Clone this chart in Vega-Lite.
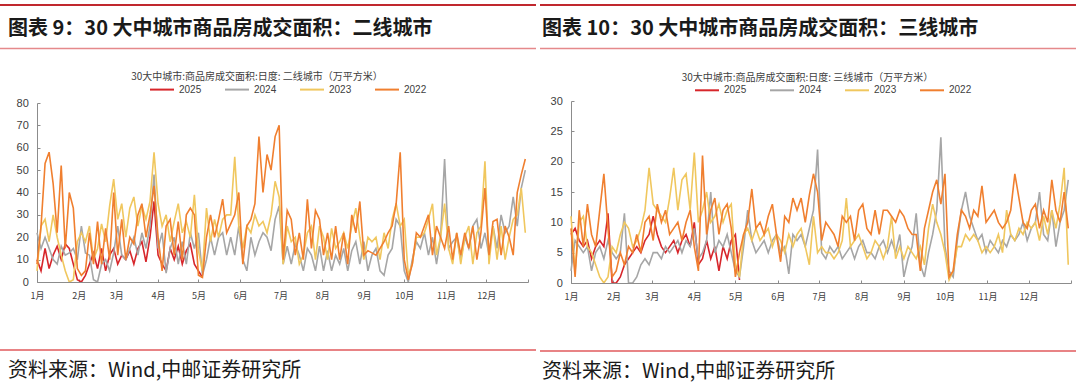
{
  "$schema": "https://vega.github.io/schema/vega-lite/v6.json",
  "background": "white",
  "padding": {"left": 0, "top": 4, "right": 0, "bottom": 6},
  "spacing": 4,
  "resolve": {"scale": {"color": "independent"}, "legend": {"color": "independent"}},
  "datasets": {
    "er": [
      {"d":0,"2025":10,"2024":22,"2023":5,"2022":8},
      {"d":3,"2025":5,"2024":15,"2023":25,"2022":25},
      {"d":6,"2025":15,"2024":20,"2023":28,"2022":53},
      {"d":9,"2025":6,"2024":15,"2023":18,"2022":58},
      {"d":12,"2025":12,"2024":10,"2023":30,"2022":44},
      {"d":15,"2025":16,"2024":8,"2023":20,"2022":22},
      {"d":18,"2025":10,"2024":16,"2023":12,"2022":52},
      {"d":21,"2025":17,"2024":12,"2023":5,"2022":15},
      {"d":24,"2025":15,"2024":13,"2023":0,"2022":40},
      {"d":27,"2025":8,"2024":15,"2023":1,"2022":33},
      {"d":30,"2025":1,"2024":10,"2023":18,"2022":6},
      {"d":33,"2025":0,"2024":25,"2023":22,"2022":3},
      {"d":36,"2025":3,"2024":13,"2023":18,"2022":5},
      {"d":39,"2025":8,"2024":12,"2023":25,"2022":22},
      {"d":42,"2025":13,"2024":1,"2023":10,"2022":8},
      {"d":45,"2025":6,"2024":0,"2023":15,"2022":27},
      {"d":48,"2025":15,"2024":8,"2023":26,"2022":8},
      {"d":51,"2025":5,"2024":10,"2023":18,"2022":24},
      {"d":54,"2025":12,"2024":5,"2023":34,"2022":10},
      {"d":57,"2025":15,"2024":13,"2023":46,"2022":40},
      {"d":60,"2025":8,"2024":25,"2023":28,"2022":12},
      {"d":63,"2025":12,"2024":12,"2023":35,"2022":28},
      {"d":66,"2025":10,"2024":10,"2023":20,"2022":10},
      {"d":69,"2025":14,"2024":15,"2023":33,"2022":20},
      {"d":72,"2025":8,"2024":20,"2023":38,"2022":17},
      {"d":75,"2025":15,"2024":12,"2023":25,"2022":30},
      {"d":78,"2025":18,"2024":22,"2023":34,"2022":35},
      {"d":81,"2025":9,"2024":15,"2023":28,"2022":20},
      {"d":84,"2025":20,"2024":25,"2023":36,"2022":30},
      {"d":87,"2025":36,"2024":48,"2023":58,"2022":43},
      {"d":90,"2025":12,"2024":15,"2023":35,"2022":20},
      {"d":93,"2025":8,"2024":22,"2023":25,"2022":5},
      {"d":96,"2025":5,"2024":4,"2023":30,"2022":25},
      {"d":99,"2025":15,"2024":15,"2023":18,"2022":28},
      {"d":102,"2025":10,"2024":20,"2023":27,"2022":12},
      {"d":105,"2025":16,"2024":8,"2023":35,"2022":27},
      {"d":108,"2025":8,"2024":18,"2023":22,"2022":10},
      {"d":111,"2025":14,"2024":8,"2023":27,"2022":30},
      {"d":114,"2025":17,"2024":22,"2023":20,"2022":33},
      {"d":117,"2025":8,"2024":15,"2023":39,"2022":30},
      {"d":120,"2025":5,"2024":22,"2023":14,"2022":3},
      {"d":123,"2025":2,"2024":3,"2023":5,"2022":2},
      {"d":126,"2024":10,"2023":33,"2022":20},
      {"d":129,"2024":20,"2023":18,"2022":30},
      {"d":132,"2024":12,"2023":28,"2022":20},
      {"d":135,"2024":20,"2023":20,"2022":28},
      {"d":138,"2024":22,"2023":28,"2022":37},
      {"d":141,"2024":12,"2023":30,"2022":22},
      {"d":144,"2024":20,"2023":30,"2022":26},
      {"d":147,"2024":12,"2023":56,"2022":30},
      {"d":150,"2024":25,"2023":25,"2022":40},
      {"d":153,"2024":10,"2023":15,"2022":8},
      {"d":156,"2024":5,"2023":25,"2022":25},
      {"d":159,"2024":20,"2023":22,"2022":28},
      {"d":162,"2024":12,"2023":30,"2022":35},
      {"d":165,"2024":18,"2023":25,"2022":65},
      {"d":168,"2024":22,"2023":27,"2022":40},
      {"d":171,"2024":20,"2023":22,"2022":57},
      {"d":174,"2024":14,"2023":30,"2022":50},
      {"d":177,"2024":28,"2023":45,"2022":65},
      {"d":180,"2024":34,"2023":38,"2022":70},
      {"d":183,"2024":8,"2023":8,"2022":10},
      {"d":186,"2024":16,"2023":25,"2022":32},
      {"d":189,"2024":8,"2023":18,"2022":28},
      {"d":192,"2024":17,"2023":20,"2022":12},
      {"d":195,"2024":12,"2023":8,"2022":22},
      {"d":198,"2024":5,"2023":12,"2022":10},
      {"d":201,"2024":15,"2023":22,"2022":37},
      {"d":204,"2024":12,"2023":25,"2022":15},
      {"d":207,"2024":5,"2023":10,"2022":32},
      {"d":210,"2024":16,"2023":25,"2022":28},
      {"d":213,"2024":5,"2023":20,"2022":12},
      {"d":216,"2024":14,"2023":10,"2022":22},
      {"d":219,"2024":5,"2023":24,"2022":10},
      {"d":222,"2024":12,"2023":15,"2022":25},
      {"d":225,"2024":8,"2023":18,"2022":10},
      {"d":228,"2024":15,"2023":22,"2022":22},
      {"d":231,"2024":5,"2023":15,"2022":8},
      {"d":234,"2024":14,"2023":25,"2022":30},
      {"d":237,"2024":18,"2023":33,"2022":22},
      {"d":240,"2024":8,"2023":20,"2022":36},
      {"d":243,"2024":18,"2023":10,"2022":12},
      {"d":246,"2024":5,"2023":20,"2022":14},
      {"d":249,"2024":12,"2023":18,"2022":13},
      {"d":252,"2024":15,"2023":20,"2022":12},
      {"d":255,"2024":5,"2023":10,"2022":15},
      {"d":258,"2024":3,"2023":22,"2022":18},
      {"d":261,"2024":12,"2023":15,"2022":22},
      {"d":264,"2024":15,"2023":28,"2022":25},
      {"d":267,"2024":28,"2023":35,"2022":35},
      {"d":270,"2024":25,"2023":25,"2022":58},
      {"d":273,"2024":5,"2023":28,"2022":10},
      {"d":276,"2024":0,"2023":3,"2022":1},
      {"d":279,"2024":10,"2023":8,"2022":8},
      {"d":282,"2024":18,"2023":20,"2022":22},
      {"d":285,"2024":15,"2023":20,"2022":20},
      {"d":288,"2024":22,"2023":22,"2022":25},
      {"d":291,"2024":12,"2023":28,"2022":30},
      {"d":294,"2024":20,"2023":35,"2022":12},
      {"d":297,"2024":8,"2023":12,"2022":25},
      {"d":300,"2024":20,"2023":20,"2022":20},
      {"d":303,"2024":55,"2023":35,"2022":15},
      {"d":306,"2024":15,"2023":15,"2022":25},
      {"d":309,"2024":18,"2023":8,"2022":10},
      {"d":312,"2024":20,"2023":22,"2022":22},
      {"d":315,"2024":10,"2023":8,"2022":12},
      {"d":318,"2024":20,"2023":20,"2022":22},
      {"d":321,"2024":15,"2023":25,"2022":15},
      {"d":324,"2024":25,"2023":8,"2022":25},
      {"d":327,"2024":28,"2023":22,"2022":10},
      {"d":330,"2024":15,"2023":25,"2022":22},
      {"d":333,"2024":22,"2023":54,"2022":42},
      {"d":336,"2024":12,"2023":8,"2022":12},
      {"d":339,"2024":25,"2023":25,"2022":27},
      {"d":342,"2024":15,"2023":10,"2022":28},
      {"d":345,"2024":30,"2023":25,"2022":12},
      {"d":348,"2024":22,"2023":10,"2022":25},
      {"d":351,"2024":25,"2023":20,"2022":20},
      {"d":354,"2024":38,"2023":28,"2022":12},
      {"d":357,"2024":25,"2023":30,"2022":40},
      {"d":360,"2024":42,"2023":42,"2022":48},
      {"d":363,"2024":50,"2023":22,"2022":55}
    ],
    "san": [
      {"d":0,"2025":8,"2024":2,"2023":11,"2022":9},
      {"d":3,"2025":9,"2024":7,"2023":2,"2022":1},
      {"d":6,"2025":7,"2024":6,"2023":10,"2022":12},
      {"d":9,"2025":6,"2024":5,"2023":11,"2022":6},
      {"d":12,"2025":7,"2024":6,"2023":6,"2022":13},
      {"d":15,"2025":4,"2024":2,"2023":5,"2022":8},
      {"d":18,"2025":6,"2024":5,"2023":3,"2022":6},
      {"d":21,"2025":7,"2024":6,"2023":1,"2022":12},
      {"d":24,"2025":6,"2024":4,"2023":0,"2022":18},
      {"d":27,"2025":11.5,"2024":7,"2023":1,"2022":9},
      {"d":30,"2025":0,"2024":5,"2023":6,"2022":1},
      {"d":33,"2025":0,"2024":4,"2023":5,"2022":2},
      {"d":36,"2025":1,"2024":5,"2023":8,"2022":5},
      {"d":39,"2025":3,"2024":11.5,"2023":10,"2022":3},
      {"d":42,"2025":4,"2024":0,"2023":9,"2022":6},
      {"d":45,"2025":5,"2024":0,"2023":6,"2022":5},
      {"d":48,"2025":6,"2024":1,"2023":7,"2022":8},
      {"d":51,"2025":5,"2024":3,"2023":9,"2022":5},
      {"d":54,"2025":7,"2024":4,"2023":12,"2022":10},
      {"d":57,"2025":8,"2024":3,"2023":19,"2022":11},
      {"d":60,"2025":11,"2024":5,"2023":13,"2022":7},
      {"d":63,"2025":8,"2024":5,"2023":12,"2022":13},
      {"d":66,"2025":6,"2024":4,"2023":11,"2022":10},
      {"d":69,"2025":5,"2024":6,"2023":10,"2022":12},
      {"d":72,"2025":6,"2024":5,"2023":14,"2022":8},
      {"d":75,"2025":7,"2024":6,"2023":19,"2022":9},
      {"d":78,"2025":5,"2024":7,"2023":12,"2022":10},
      {"d":81,"2025":7,"2024":5,"2023":17,"2022":7},
      {"d":84,"2025":8,"2024":7,"2023":18,"2022":10},
      {"d":87,"2025":6,"2024":6,"2023":12,"2022":12},
      {"d":90,"2025":10,"2024":9,"2023":21.5,"2022":6},
      {"d":93,"2025":3,"2024":4,"2023":10,"2022":2},
      {"d":96,"2025":4,"2024":5,"2023":12,"2022":21},
      {"d":99,"2025":7,"2024":7,"2023":15,"2022":8},
      {"d":102,"2025":4,"2024":15,"2023":10,"2022":12},
      {"d":105,"2025":6,"2024":5,"2023":11,"2022":14},
      {"d":108,"2025":2,"2024":7,"2023":13,"2022":8},
      {"d":111,"2025":6,"2024":6,"2023":10,"2022":12},
      {"d":114,"2025":4,"2024":8,"2023":12,"2022":13},
      {"d":117,"2025":7,"2024":5,"2023":13,"2022":9},
      {"d":120,"2025":8,"2024":2,"2023":3,"2022":1},
      {"d":123,"2025":0.5,"2024":1,"2023":1,"2022":5},
      {"d":126,"2024":6,"2023":8,"2022":8},
      {"d":129,"2024":12,"2023":9,"2022":10},
      {"d":132,"2024":7,"2023":7,"2022":15.5},
      {"d":135,"2024":5,"2023":9,"2022":9},
      {"d":138,"2024":6,"2023":7,"2022":10},
      {"d":141,"2024":7,"2023":8,"2022":8},
      {"d":144,"2024":5,"2023":9,"2022":11},
      {"d":147,"2024":7,"2023":6,"2022":13},
      {"d":150,"2024":8,"2023":8,"2022":8},
      {"d":153,"2024":5,"2023":7,"2022":3.5},
      {"d":156,"2024":6,"2023":5,"2022":11},
      {"d":159,"2024":1.5,"2023":8,"2022":10},
      {"d":162,"2024":8,"2023":6,"2022":14},
      {"d":165,"2024":7,"2023":8,"2022":12},
      {"d":168,"2024":8,"2023":9,"2022":14},
      {"d":171,"2024":6,"2023":6,"2022":10},
      {"d":174,"2024":9,"2023":3,"2022":14.5},
      {"d":177,"2024":12,"2023":11,"2022":18},
      {"d":180,"2024":22,"2023":5,"2022":15},
      {"d":183,"2024":5,"2023":6,"2022":7},
      {"d":186,"2024":4,"2023":5,"2022":10},
      {"d":189,"2024":6,"2023":5,"2022":9},
      {"d":192,"2024":5,"2023":4,"2022":8},
      {"d":195,"2024":6,"2023":5,"2022":6},
      {"d":198,"2024":4,"2023":7,"2022":11},
      {"d":201,"2024":5,"2023":14,"2022":10},
      {"d":204,"2024":6,"2023":6,"2022":11},
      {"d":207,"2024":4,"2023":7,"2022":7},
      {"d":210,"2024":6,"2023":8,"2022":12},
      {"d":213,"2024":7,"2023":6,"2022":13},
      {"d":216,"2024":5,"2023":4,"2022":9},
      {"d":219,"2024":5,"2023":5,"2022":8},
      {"d":222,"2024":4,"2023":7,"2022":12},
      {"d":225,"2024":6,"2023":6,"2022":8},
      {"d":228,"2024":7,"2023":4,"2022":12},
      {"d":231,"2024":5,"2023":6,"2022":12},
      {"d":234,"2024":7,"2023":11,"2022":11},
      {"d":237,"2024":5,"2023":4,"2022":10},
      {"d":240,"2024":8,"2023":6,"2022":12},
      {"d":243,"2024":1,"2023":4,"2022":11},
      {"d":246,"2024":4,"2023":6,"2022":9},
      {"d":249,"2024":6,"2023":5,"2022":8},
      {"d":252,"2024":11.5,"2023":4,"2022":8},
      {"d":255,"2024":3,"2023":6,"2022":2},
      {"d":258,"2024":1,"2023":3,"2022":9},
      {"d":261,"2024":5,"2023":9,"2022":12},
      {"d":264,"2024":8,"2023":13,"2022":15},
      {"d":267,"2024":12,"2023":10,"2022":17},
      {"d":270,"2024":24,"2023":8,"2022":13},
      {"d":273,"2024":6,"2023":5,"2022":18},
      {"d":276,"2024":2,"2023":0.5,"2022":1},
      {"d":279,"2024":1,"2023":2,"2022":2},
      {"d":282,"2024":7,"2023":6,"2022":8},
      {"d":285,"2024":12,"2023":6,"2022":12},
      {"d":288,"2024":15,"2023":8,"2022":11},
      {"d":291,"2024":11,"2023":7,"2022":9},
      {"d":294,"2024":9,"2023":8,"2022":12},
      {"d":297,"2024":7,"2023":7,"2022":11},
      {"d":300,"2024":8,"2023":5,"2022":16},
      {"d":303,"2024":5,"2023":6,"2022":10},
      {"d":306,"2024":7,"2023":5,"2022":11},
      {"d":309,"2024":6,"2023":6,"2022":12},
      {"d":312,"2024":5,"2023":8,"2022":10},
      {"d":315,"2024":7,"2023":5,"2022":9},
      {"d":318,"2024":6,"2023":12,"2022":10},
      {"d":321,"2024":8,"2023":8,"2022":12},
      {"d":324,"2024":7,"2023":7,"2022":18},
      {"d":327,"2024":8,"2023":9,"2022":14},
      {"d":330,"2024":10,"2023":8,"2022":10},
      {"d":333,"2024":7,"2023":10,"2022":9},
      {"d":336,"2024":9,"2023":9,"2022":12},
      {"d":339,"2024":10,"2023":10,"2022":13},
      {"d":342,"2024":15,"2023":7,"2022":9},
      {"d":345,"2024":8,"2023":11,"2022":12},
      {"d":348,"2024":7,"2023":8,"2022":10},
      {"d":351,"2024":12,"2023":12,"2022":17},
      {"d":354,"2024":6,"2023":9,"2022":12},
      {"d":357,"2024":10,"2023":13,"2022":10},
      {"d":360,"2024":12,"2023":19,"2022":15},
      {"d":363,"2024":17,"2023":3,"2022":9}
    ]
  },
  "hconcat": [
    {
      "spacing": 22,
      "resolve": {"scale": {"color": "independent"}, "legend": {"color": "independent"}},
      "vconcat": [
        {
          "spacing": 12.7,
          "vconcat": [
            {"width": 536, "height": 2, "data": {"values": []}, "mark": "rule", "encoding": {}, "view": {"fill": "#c0282e", "stroke": null}},
            {"width": 536, "height": 1.5, "data": {"values": []}, "mark": "rule", "encoding": {}, "view": {"fill": "#e5898b", "stroke": null},
             "title": {"text": "图表 9：30 大中城市商品房成交面积：二线城市", "fontSize": 20, "fontWeight": "bold", "color": "#1a1a1a", "font": "Noto Sans CJK SC", "anchor": "start", "frame": "group", "offset": 9, "dx": 8}}
          ]
        },
        {
          "spacing": 49.3,
          "resolve": {"scale": {"color": "independent"}, "legend": {"color": "independent"}},
          "vconcat": [
            {
              "width": 528, "height": 179,
              "data": {"name": "er"},
              "transform": [{"fold": ["2025", "2024", "2023", "2022"], "as": ["year", "v"]}, {"filter": "isValid(datum.v)"}],
              "title": {"text": "30大中城市:商品房成交面积:日度: 二线城市（万平方米）", "fontSize": 10, "fontWeight": "normal", "color": "#404040", "font": "Noto Sans CJK SC", "anchor": "middle", "frame": "group", "offset": -5.7, "dx": -7},
              "mark": {"type": "line", "strokeWidth": 1.6, "clip": true},
              "encoding": {
                "x": {"field": "d", "type": "quantitative", "scale": {"domain": [0, 365], "range": [37, 528], "nice": false, "zero": false},
                      "axis": {"title": null, "grid": false, "values": [0, 31, 59, 90, 120, 151, 181, 212, 243, 273, 304, 334, 365],
                               "labelExpr": "datum.value >= 365 ? '' : (indexof([0,31,59,90,120,151,181,212,243,273,304,334], datum.value) + 1) + '月'",
                               "labelFont": "Noto Sans CJK SC", "labelFontSize": 9, "labelColor": "#404040", "labelPadding": 12,
                               "tickSize": -3, "tickColor": "#8c8c8c", "domainColor": "#8c8c8c", "labelFlush": false}},
                "y": {"field": "v", "type": "quantitative", "scale": {"domain": [0, 80], "nice": false},
                      "axis": {"title": null, "grid": false, "values": [0, 10, 20, 30, 40, 50, 60, 70, 80], "offset": -37,
                               "labelFont": "Liberation Sans", "labelFontSize": 11, "labelColor": "#404040", "labelPadding": 11.7,
                               "tickSize": -3, "tickColor": "#8c8c8c", "domainColor": "#8c8c8c"}},
                "color": {"field": "year", "type": "nominal",
                          "scale": {"domain": ["2025", "2024", "2023", "2022"], "range": ["#d7262b", "#a6a6a6", "#f0c75e", "#f07f2f"]},
                          "legend": {"orient": "none", "legendX": 149, "legendY": -26.4, "direction": "horizontal", "title": null, "symbolType": "stroke", "symbolSize": 576,
                                     "symbolStrokeWidth": 2, "labelFont": "Liberation Sans", "labelFontSize": 10, "labelColor": "#404040",
                                     "labelOffset": 4, "columnPadding": 19}}
              }
            },
            {"width": 536, "height": 1.5, "data": {"values": []}, "mark": "rule", "encoding": {}, "view": {"fill": "#e05a5c", "stroke": null},
             "title": {"text": "资料来源：Wind,中邮证券研究所", "orient": "bottom", "fontSize": 20, "fontWeight": "normal", "color": "#1a1a1a", "font": "Noto Sans CJK SC", "anchor": "start", "frame": "group", "offset": 10, "dx": 8}}
          ]
        }
      ]
    },
    {
      "spacing": 22,
      "resolve": {"scale": {"color": "independent"}, "legend": {"color": "independent"}},
      "vconcat": [
        {
          "spacing": 12.7,
          "vconcat": [
            {"width": 536, "height": 2, "data": {"values": []}, "mark": "rule", "encoding": {}, "view": {"fill": "#c0282e", "stroke": null}},
            {"width": 536, "height": 1.5, "data": {"values": []}, "mark": "rule", "encoding": {}, "view": {"fill": "#e5898b", "stroke": null},
             "title": {"text": "图表 10：30 大中城市商品房成交面积：三线城市", "fontSize": 20, "fontWeight": "bold", "color": "#1a1a1a", "font": "Noto Sans CJK SC", "anchor": "start", "frame": "group", "offset": 9, "dx": 2}}
          ]
        },
        {
          "spacing": 49.3,
          "resolve": {"scale": {"color": "independent"}, "legend": {"color": "independent"}},
          "vconcat": [
            {
              "width": 531, "height": 182,
              "data": {"name": "san"},
              "transform": [{"fold": ["2025", "2024", "2023", "2022"], "as": ["year", "v"]}, {"filter": "isValid(datum.v)"}],
              "title": {"text": "30大中城市:商品房成交面积:日度: 三线城市（万平方米）", "fontSize": 10, "fontWeight": "normal", "color": "#404040", "font": "Noto Sans CJK SC", "anchor": "middle", "frame": "group", "offset": -5.7, "dx": 2},
              "mark": {"type": "line", "strokeWidth": 1.6, "clip": true},
              "encoding": {
                "x": {"field": "d", "type": "quantitative", "scale": {"domain": [0, 365], "range": [31, 531], "nice": false, "zero": false},
                      "axis": {"title": null, "grid": false, "values": [0, 31, 59, 90, 120, 151, 181, 212, 243, 273, 304, 334, 365],
                               "labelExpr": "datum.value >= 365 ? '' : (indexof([0,31,59,90,120,151,181,212,243,273,304,334], datum.value) + 1) + '月'",
                               "labelFont": "Noto Sans CJK SC", "labelFontSize": 9, "labelColor": "#404040", "labelPadding": 12,
                               "tickSize": -3, "tickColor": "#8c8c8c", "domainColor": "#8c8c8c", "labelFlush": false}},
                "y": {"field": "v", "type": "quantitative", "scale": {"domain": [0, 30], "nice": false},
                      "axis": {"title": null, "grid": false, "values": [0, 5, 10, 15, 20, 25, 30], "offset": -31,
                               "labelFont": "Liberation Sans", "labelFontSize": 11, "labelColor": "#404040", "labelPadding": 11.7,
                               "tickSize": -3, "tickColor": "#8c8c8c", "domainColor": "#8c8c8c"}},
                "color": {"field": "year", "type": "nominal",
                          "scale": {"domain": ["2025", "2024", "2023", "2022"], "range": ["#d7262b", "#a6a6a6", "#f0c75e", "#f07f2f"]},
                          "legend": {"orient": "none", "legendX": 154, "legendY": -23.7, "direction": "horizontal", "title": null, "symbolType": "stroke", "symbolSize": 576,
                                     "symbolStrokeWidth": 2, "labelFont": "Liberation Sans", "labelFontSize": 10, "labelColor": "#404040",
                                     "labelOffset": 4, "columnPadding": 19}}
              }
            },
            {"width": 536, "height": 1.5, "data": {"values": []}, "mark": "rule", "encoding": {}, "view": {"fill": "#e05a5c", "stroke": null},
             "title": {"text": "资料来源：Wind,中邮证券研究所", "orient": "bottom", "fontSize": 20, "fontWeight": "normal", "color": "#1a1a1a", "font": "Noto Sans CJK SC", "anchor": "start", "frame": "group", "offset": 10, "dx": 2}}
          ]
        }
      ]
    }
  ],
  "config": {
    "view": {"stroke": null},
    "font": "Noto Sans CJK SC"
  }
}
